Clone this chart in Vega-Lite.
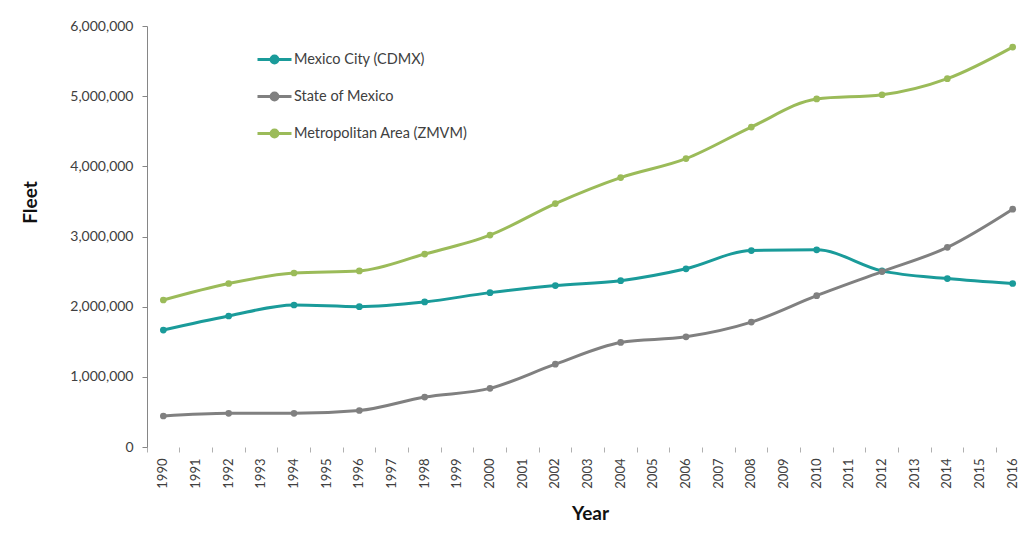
{
  "$schema": "https://vega.github.io/schema/vega-lite/v6.json",
  "width": 882,
  "height": 421,
  "autosize": {"type": "none"},
  "padding": {"left": 147, "top": 26, "right": 0, "bottom": 87},
  "background": "white",
  "config": {"view": {"stroke": null}, "font": "Lato"},
  "data": {"values": [
    {"year": 1990, "region": "Mexico City (CDMX)", "fleet": 1667000},
    {"year": 1992, "region": "Mexico City (CDMX)", "fleet": 1867000},
    {"year": 1994, "region": "Mexico City (CDMX)", "fleet": 2024000},
    {"year": 1996, "region": "Mexico City (CDMX)", "fleet": 2000000},
    {"year": 1998, "region": "Mexico City (CDMX)", "fleet": 2067000},
    {"year": 2000, "region": "Mexico City (CDMX)", "fleet": 2200000},
    {"year": 2002, "region": "Mexico City (CDMX)", "fleet": 2300000},
    {"year": 2004, "region": "Mexico City (CDMX)", "fleet": 2370000},
    {"year": 2006, "region": "Mexico City (CDMX)", "fleet": 2540000},
    {"year": 2008, "region": "Mexico City (CDMX)", "fleet": 2800000},
    {"year": 2010, "region": "Mexico City (CDMX)", "fleet": 2810000},
    {"year": 2012, "region": "Mexico City (CDMX)", "fleet": 2510000},
    {"year": 2014, "region": "Mexico City (CDMX)", "fleet": 2400000},
    {"year": 2016, "region": "Mexico City (CDMX)", "fleet": 2330000},
    {"year": 1990, "region": "State of Mexico", "fleet": 442000},
    {"year": 1992, "region": "State of Mexico", "fleet": 480000},
    {"year": 1994, "region": "State of Mexico", "fleet": 480000},
    {"year": 1996, "region": "State of Mexico", "fleet": 520000},
    {"year": 1998, "region": "State of Mexico", "fleet": 712000},
    {"year": 2000, "region": "State of Mexico", "fleet": 836000},
    {"year": 2002, "region": "State of Mexico", "fleet": 1180000},
    {"year": 2004, "region": "State of Mexico", "fleet": 1490000},
    {"year": 2006, "region": "State of Mexico", "fleet": 1570000},
    {"year": 2008, "region": "State of Mexico", "fleet": 1780000},
    {"year": 2010, "region": "State of Mexico", "fleet": 2157000},
    {"year": 2012, "region": "State of Mexico", "fleet": 2500000},
    {"year": 2014, "region": "State of Mexico", "fleet": 2846000},
    {"year": 2016, "region": "State of Mexico", "fleet": 3390000},
    {"year": 1990, "region": "Metropolitan Area (ZMVM)", "fleet": 2095000},
    {"year": 1992, "region": "Metropolitan Area (ZMVM)", "fleet": 2330000},
    {"year": 1994, "region": "Metropolitan Area (ZMVM)", "fleet": 2480000},
    {"year": 1996, "region": "Metropolitan Area (ZMVM)", "fleet": 2510000},
    {"year": 1998, "region": "Metropolitan Area (ZMVM)", "fleet": 2750000},
    {"year": 2000, "region": "Metropolitan Area (ZMVM)", "fleet": 3020000},
    {"year": 2002, "region": "Metropolitan Area (ZMVM)", "fleet": 3470000},
    {"year": 2004, "region": "Metropolitan Area (ZMVM)", "fleet": 3840000},
    {"year": 2006, "region": "Metropolitan Area (ZMVM)", "fleet": 4110000},
    {"year": 2008, "region": "Metropolitan Area (ZMVM)", "fleet": 4560000},
    {"year": 2010, "region": "Metropolitan Area (ZMVM)", "fleet": 4960000},
    {"year": 2012, "region": "Metropolitan Area (ZMVM)", "fleet": 5020000},
    {"year": 2014, "region": "Metropolitan Area (ZMVM)", "fleet": 5250000},
    {"year": 2016, "region": "Metropolitan Area (ZMVM)", "fleet": 5700000}
  ]},
  "encoding": {
    "x": {
      "field": "year",
      "type": "ordinal",
      "scale": {
        "type": "band",
        "domain": [1990, 1991, 1992, 1993, 1994, 1995, 1996, 1997, 1998, 1999, 2000, 2001, 2002, 2003, 2004, 2005, 2006, 2007, 2008, 2009, 2010, 2011, 2012, 2013, 2014, 2015, 2016],
        "paddingInner": 0,
        "paddingOuter": 0
      },
      "axis": {
        "title": "Year",
        "titleFontSize": 19,
        "titleFontWeight": "bold",
        "titleColor": "#111111",
        "titleX": 443,
        "titleY": 66,
        "titleBaseline": "middle",
        "titleAlign": "center",
        "labelAngle": -90,
        "labelFontSize": 13,
        "labelColor": "#404040",
        "labelPadding": 6,
        "bandPosition": 0,
        "tickSize": 5,
        "tickColor": "#b0b0b0",
        "domain": false,
        "grid": false
      }
    },
    "y": {
      "field": "fleet",
      "type": "quantitative",
      "scale": {"domain": [0, 6000000], "nice": false},
      "axis": {
        "title": "Fleet",
        "titleFontSize": 19,
        "titleFontWeight": "bold",
        "titleColor": "#111111",
        "titleX": -117,
        "titleY": 176,
        "titleAngle": -90,
        "titleBaseline": "middle",
        "titleAlign": "center",
        "values": [0, 1000000, 2000000, 3000000, 4000000, 5000000, 6000000],
        "format": ",d",
        "labelFontSize": 14,
        "labelColor": "#404040",
        "labelPadding": 9,
        "tickSize": 5,
        "tickColor": "#868686",
        "domainColor": "#868686",
        "grid": false
      }
    },
    "color": {
      "field": "region",
      "type": "nominal",
      "scale": {
        "domain": ["Mexico City (CDMX)", "State of Mexico", "Metropolitan Area (ZMVM)"],
        "range": ["#1a9b9a", "#808080", "#9bbb59"]
      },
      "legend": {
        "title": null,
        "orient": "none",
        "legendX": 109,
        "legendY": 15,
        "symbolType": "M-1,0H1M-0.2,0A0.2,0.2 0 1,0 0.2,0A0.2,0.2 0 1,0 -0.2,0Z",
        "symbolSize": 1156,
        "symbolStrokeWidth": 3,
        "labelFontSize": 14.5,
        "labelColor": "#404040",
        "labelLimit": 400,
        "labelOffset": 1,
        "rowPadding": 9
      }
    }
  },
  "layer": [
    {"mark": {"type": "line", "interpolate": "monotone", "strokeWidth": 3}},
    {"mark": {"type": "point", "filled": true, "size": 45, "opacity": 1}}
  ]
}
